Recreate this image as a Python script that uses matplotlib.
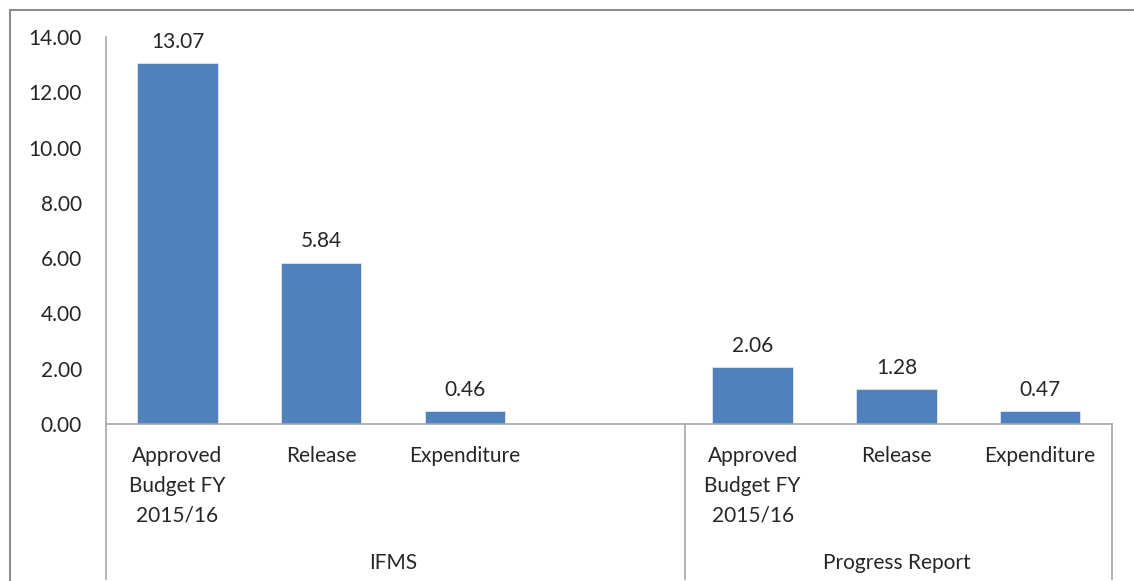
import matplotlib
matplotlib.use("Agg")
import matplotlib.pyplot as plt
from matplotlib.patches import Rectangle
import matplotlib.transforms as mtransforms

plt.rcParams['font.family'] = ['Lato', 'DejaVu Sans']

groups = ["IFMS", "Progress Report"]
categories = ["Approved\nBudget FY\n2015/16", "Release", "Expenditure"]
ifms_values = [13.07, 5.84, 0.46]
progress_values = [2.06, 1.28, 0.47]
yticks = [0, 2, 4, 6, 8, 10, 12, 14]

fig = plt.figure(figsize=(11.34, 5.81), dpi=100)
ax = fig.add_axes([0.0931, 0.2702, 0.8875, 0.6661])

bar_color = "#4F81BD"
text_color = "#262626"
line_color = "#A6A6A6"
fs = 15

# positions: group 1 at 0..2, empty slot 3, group 2 at 4..6
pos1 = [0, 1, 2]
pos2 = [4, 5, 6]
ax.bar(pos1, ifms_values, width=0.56, color=bar_color, edgecolor="#DCE6F2", linewidth=0.6)
ax.bar(pos2, progress_values, width=0.56, color=bar_color, edgecolor="#DCE6F2", linewidth=0.6)

for x, v in zip(pos1 + pos2, ifms_values + progress_values):
    ax.annotate(f"{v:.2f}", (x, v), xytext=(0, 8), textcoords="offset points",
                ha="center", va="bottom", fontsize=fs, color=text_color)

ax.set_xlim(-0.5, 6.5)
ax.set_ylim(0, 14)
ax.set_yticks(yticks)
ax.set_yticklabels([f"{t:.2f}" for t in yticks], fontsize=fs, color=text_color)
ax.tick_params(axis="y", length=0, pad=17)
ax.set_xticks([])

for s in ["top", "right", "left"]:
    ax.spines[s].set_visible(False)
ax.spines["bottom"].set_color(line_color)
ax.spines["bottom"].set_linewidth(1.2)

trans = mtransforms.blended_transform_factory(ax.transData, ax.transAxes)
# vertical lines
ax.plot([-0.5, -0.5], [1.0, -0.40], transform=trans, color=line_color, lw=1.2, clip_on=False)
ax.plot([3.53, 3.53], [0, -0.40], transform=trans, color=line_color, lw=1.2, clip_on=False)
ax.plot([6.5, 6.5], [0, -0.40], transform=trans, color=line_color, lw=1.2, clip_on=False)

# category labels
for x, lab in zip(pos1 + pos2, categories + categories):
    ax.text(x, -0.058, lab, transform=trans, ha="center", va="top",
            fontsize=fs, color=text_color, linespacing=1.6)

# group labels
ax.text(1.5, -0.36, groups[0], transform=trans, ha="center", va="center", fontsize=fs, color=text_color)
ax.text(5.0, -0.36, groups[1], transform=trans, ha="center", va="center", fontsize=fs, color=text_color)

# outer frame
fig.patches.append(Rectangle((10 / 1134, -0.1), 1.2, 1 - 10 / 581 + 0.1,
                             transform=fig.transFigure, fill=False,
                             edgecolor="#8C8C8C", linewidth=1.5))

fig.savefig("out.png", dpi=100)
